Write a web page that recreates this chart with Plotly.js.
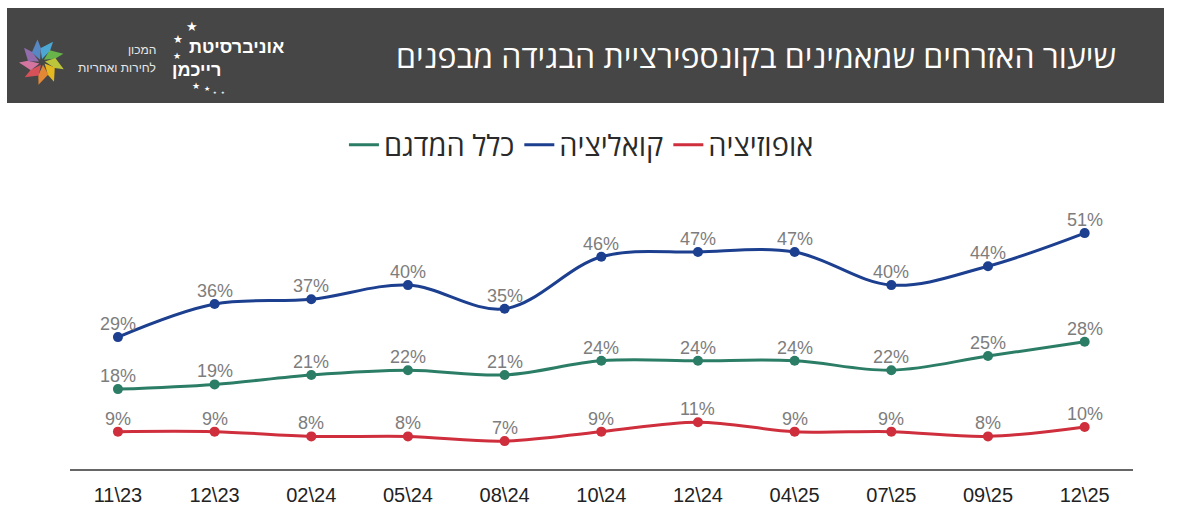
<!DOCTYPE html>
<html>
<head>
<meta charset="utf-8">
<script src="https://cdn.plot.ly/plotly-3.0.1.min.js"></script>
<style>html,body{margin:0;padding:0;background:#fff;}#chart{width:1177px;height:509px;}</style>
</head>
<body>
<div id="chart"></div>
<script>
// ---- data ----
const categories = ["11\\23","12\\23","02\\24","05\\24","08\\24","10\\24","12\\24","04\\25","07\\25","09\\25","12\\25"];
const coalition = [29,36,37,40,35,46,47,47,40,44,51];
const sample = [18,19,21,22,21,24,24,24,22,25,28];
const opposition = [9,9,8,8,7,9,11,9,9,8,10];
const seriesNames = ["כלל המדגם","קואליציה","אופוזיציה"];
const chartTitle = "שיעור האזרחים שמאמינים בקונספירציית הבגידה מבפנים";

const W = 1177, H = 509;
const px = x => x / W;
const py = y => 1 - y / H;

const colors = {sample:"#2b7d66", coalition:"#1c3f8f", opposition:"#cf2e3c"};
const labelFont = {family:"Liberation Sans, Arial, sans-serif", size:18, color:"#7d7d7d"};

function lineTrace(vals, color){
  return {
    x: categories, y: vals, type:"scatter", mode:"lines+markers",
    line:{color:color, width:3, shape:"spline", smoothing:1},
    marker:{color:color, size:10},
    showlegend:false, hoverinfo:"skip", cliponaxis:false
  };
}
function legendTrace(name, color){
  return {x:[null], y:[null], type:"scatter", mode:"lines", name:name,
    line:{color:color, width:3}, showlegend:true, hoverinfo:"skip"};
}

const data = [
  lineTrace(sample, colors.sample),
  lineTrace(coalition, colors.coalition),
  lineTrace(opposition, colors.opposition),
  legendTrace(seriesNames[0], colors.sample),
  legendTrace(seriesNames[1], colors.coalition),
  legendTrace(seriesNames[2], colors.opposition)
];

// ---- header shapes / logo ----
const shapes = [
  {type:"rect", xref:"paper", yref:"paper", x0:px(7), x1:px(1164), y0:py(103), y1:py(8),
   fillcolor:"#464646", line:{width:0}, layer:"below"}
];
const petalColors = ["#4db2e2","#6cbf4a","#c8d43a","#f5c41c","#f28f35","#e6535a","#e27aa8","#9a70b6","#5a8fd2"];
const cx = 42, cy = 62;
petalColors.forEach((c,i) => {
  const a = -Math.PI/2 + i * 2*Math.PI/petalColors.length;
  const d = t => [Math.cos(t), Math.sin(t)];
  const [dx,dy] = d(a), [qx,qy] = d(a+0.5);
  const p0 = [cx + 3*dx, cy + 3*dy];
  const tip = [cx + 23*qx, cy + 23*qy];
  const mid = [cx + 13*Math.cos(a+0.25), cy + 13*Math.sin(a+0.25)];
  const nx = -Math.sin(a+0.25), ny = Math.cos(a+0.25);
  const s1 = [mid[0] + 5*nx, mid[1] + 5*ny];
  const s2 = [mid[0] - 5*nx, mid[1] - 5*ny];
  const pts = [p0, s1, tip, s2];
  const path = "M " + pts.map(p => px(p[0]) + " " + py(p[1])).join(" L ") + " Z";
  shapes.push({type:"path", xref:"paper", yref:"paper", path:path, fillcolor:c, opacity:0.9, line:{width:0}});
});

const white = "#ffffff";
const annotations = [
  {text:chartTitle, xref:"paper", yref:"paper", x:px(1118), y:py(56), xanchor:"right", yanchor:"middle",
   showarrow:false, font:{family:"Open Sans, Liberation Sans, sans-serif", size:32, color:white}},
  {text:"<b>אוניברסיטת</b>", xref:"paper", yref:"paper", x:px(286), y:py(47), xanchor:"right", yanchor:"middle",
   showarrow:false, font:{family:"Liberation Sans, Arial, sans-serif", size:18, color:white}},
  {text:"<b>רייכמן</b>", xref:"paper", yref:"paper", x:px(223), y:py(70), xanchor:"right", yanchor:"middle",
   showarrow:false, font:{family:"Liberation Sans, Arial, sans-serif", size:18, color:white}},
  {text:"המכון", xref:"paper", yref:"paper", x:px(158), y:py(50), xanchor:"right", yanchor:"middle",
   showarrow:false, font:{family:"Liberation Sans, Arial, sans-serif", size:12, color:"#e8e8e8"}},
  {text:"לחירות ואחריות", xref:"paper", yref:"paper", x:px(158), y:py(68), xanchor:"right", yanchor:"middle",
   showarrow:false, font:{family:"Liberation Sans, Arial, sans-serif", size:12, color:"#e8e8e8"}}
];
const stars = [[192,26,13],[178,39,11],[177,55,9],[196,86,9],[207,89,7],[215,92,4],[223,92,4]];
stars.forEach(s => annotations.push({text:"★", xref:"paper", yref:"paper", x:px(s[0]), y:py(s[1]),
  xanchor:"center", yanchor:"middle", showarrow:false, font:{size:s[2], color:white}}));

// data labels from the series arrays
[sample, coalition, opposition].forEach(vals => {
  vals.forEach((v, i) => annotations.push({
    text: v + "%", x: categories[i], y: v, xref:"x", yref:"y",
    showarrow:false, xanchor:"center", yanchor:"middle", yshift:13, font: labelFont
  }));
});

const layout = {
  width:W, height:H,
  margin:{l:0, r:0, t:0, b:0, pad:0},
  paper_bgcolor:"#ffffff", plot_bgcolor:"#ffffff",
  showlegend:true,
  legend:{orientation:"h", x:0.494, xanchor:"center", y:py(145), yanchor:"middle",
    font:{family:"Open Sans, Liberation Sans, sans-serif", size:29, color:"#2a2a2a"},
    bgcolor:"rgba(0,0,0,0)", itemwidth:30, tracegroupgap:0},
  xaxis:{type:"category", domain:[px(69.6), px(1133)], range:[-0.5, 10.5],
    showgrid:false, zeroline:false, showline:true, linecolor:"#666666", linewidth:1.5,
    ticks:"", ticklabelstandoff:7,
    tickfont:{family:"Liberation Sans, Arial, sans-serif", size:20, color:"#222222"}, fixedrange:true},
  yaxis:{domain:[py(469), py(200)], range:[1.1, 58], showgrid:false, zeroline:false,
    showline:false, showticklabels:false, ticks:"", fixedrange:true},
  shapes:shapes,
  annotations:annotations
};

Plotly.newPlot("chart", data, layout, {staticPlot:true, displayModeBar:false});
</script>
</body>
</html>
